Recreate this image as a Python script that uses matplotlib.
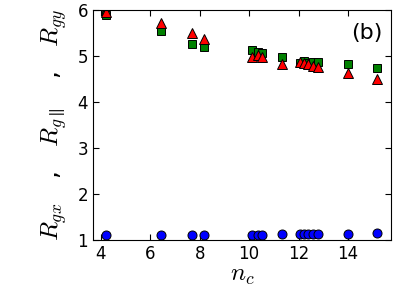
import matplotlib
matplotlib.use('Agg')
import matplotlib.pyplot as plt

plt.rcParams['mathtext.fontset'] = 'cm'

# numero de cadeias e razoes de giro
nc = [4.2, 6.42, 7.7, 8.17, 10.13, 10.37, 10.5, 11.33, 12.06, 12.2, 12.37, 12.6, 12.8, 14.0, 15.19]
rgx = [1.10, 1.11, 1.12, 1.12, 1.12, 1.12, 1.12, 1.13, 1.13, 1.13, 1.13, 1.13, 1.13, 1.14, 1.15]
rgy = [5.88, 5.55, 5.26, 5.2, 5.12, 5.09, 5.06, 4.97, 4.84, 4.88, 4.84, 4.87, 4.86, 4.83, 4.74]
rgpar = [5.96, 5.71, 5.49, 5.36, 4.97, 5.02, 4.97, 4.83, 4.86, 4.85, 4.83, 4.79, 4.77, 4.62, 4.5]

fig = plt.figure(figsize=(3.99, 2.99), dpi=100)
ax = fig.add_axes([0.233, 0.197, 0.747, 0.77])

ax.plot(nc, rgx, 'o', color='blue', mec='black', mew=0.7, ms=6.5)
ax.plot(nc, rgy, 's', color='green', mec='black', mew=0.7, ms=6)
ax.plot(nc, rgpar, '^', color='red', mec='black', mew=0.7, ms=7)

ax.set_xlim(3.68, 15.74)
ax.set_ylim(1, 6)
ax.set_xticks([4, 6, 8, 10, 12, 14])
ax.set_yticks([1, 2, 3, 4, 5, 6])
ax.tick_params(direction='in', top=True, right=True, labelsize=12, length=4)
ax.set_xlabel(r'$n_c$', fontsize=18, labelpad=0)
ax.set_ylabel(r'$R_{gx}$   ,   $R_{g\parallel}$   ,   $R_{gy}$', fontsize=18, labelpad=6)
ax.text(0.97, 0.9, '(b)', transform=ax.transAxes, ha='right', va='center', fontsize=16)

plt.savefig('out.png', dpi=100)
